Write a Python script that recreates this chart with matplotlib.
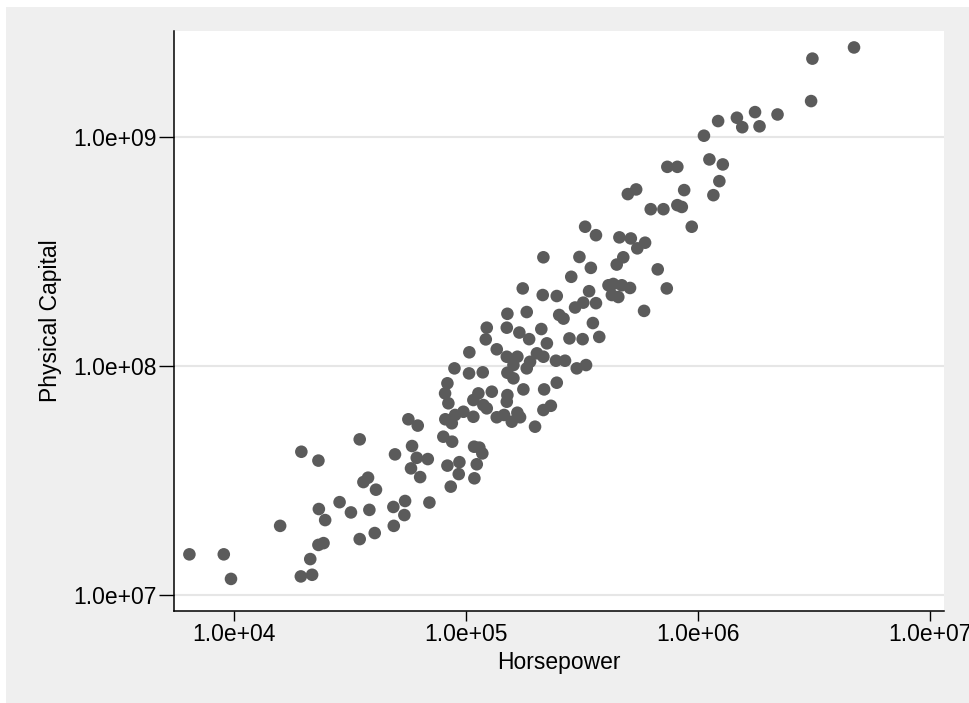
import matplotlib
matplotlib.use("Agg")
import matplotlib.pyplot as plt
from matplotlib.patches import Rectangle

plt.rcParams['font.family'] = ['Liberation Sans', 'DejaVu Sans']

# ------------------------------------------------
# Data (horsepower vs physical capital)
# ------------------------------------------------
horsepower = [
    6.42e3, 9.03e3, 9.7e3, 1.58e4, 1.95e4, 2.31e4, 1.94e4, 2.17e4, 2.13e4, 2.31e4,
    2.43e4, 2.32e4, 2.47e4, 2.85e4, 3.19e4, 3.48e4, 3.48e4, 4.04e4, 3.83e4, 3.61e4,
    3.78e4, 4.09e4, 4.86e4, 5.46e4, 5.42e4, 4.88e4, 6.95e4, 4.94e4, 5.85e4, 6.13e4,
    6.84e4, 5.79e4, 6.34e4, 5.64e4, 6.19e4, 8.31e4, 9.36e4, 9.30e4, 8.59e4, 1.086e5,
    1.112e5, 1.083e5, 1.141e5, 1.175e5, 7.98e4, 8.71e4, 8.14e4, 8.68e4, 1.033e5, 1.216e5,
    1.356e5, 8.91e4, 1.030e5, 1.180e5, 1.498e5, 1.664e5, 1.507e5, 1.600e5, 1.826e5, 1.887e5,
    2.154e5, 2.23e5, 2.44e5, 2.67e5, 2.46e5, 2.17e5, 1.766e5, 1.507e5, 1.498e5, 8.31e4,
    8.12e4, 8.39e4, 1.130e5, 1.291e5, 1.075e5, 1.187e5, 1.228e5, 9.74e4, 8.97e4, 1.075e5,
    1.356e5, 1.458e5, 1.664e5, 1.574e5, 1.709e5, 1.983e5, 2.154e5, 2.32e5, 2.154e5, 3.08e5,
    3.45e5, 2.84e5, 1.755e5, 2.14e5, 2.46e5, 3.39e5, 4.11e5, 3.20e5, 2.95e5, 3.63e5,
    1.507e5, 1.826e5, 2.52e5, 2.63e5, 3.52e5, 1.228e5, 1.498e5, 1.697e5, 2.11e5, 1.87e5,
    2.79e5, 3.18e5, 3.75e5, 1.600e5, 2.02e5, 3.00e5, 3.29e5, 5.41e5, 4.98e5, 8.71e5,
    6.25e5, 7.09e5, 8.14e5, 8.51e5, 9.39e5, 3.26e5, 3.63e5, 4.58e5, 5.13e5, 5.91e5,
    5.47e5, 4.76e5, 4.46e5, 6.70e5, 4.31e5, 4.69e5, 5.09e5, 7.33e5, 4.25e5, 4.53e5,
    5.85e5, 1.119e6, 1.278e6, 1.235e6, 1.164e6, 7.37e5, 8.14e5, 4.70e6, 3.11e6, 3.07e6,
    2.20e6, 1.76e6, 1.84e6, 1.47e6, 1.55e6, 1.22e6, 1.06e6,
]
capital = [
    1.51e7, 1.51e7, 1.18e7, 2.01e7, 4.23e7, 3.87e7, 1.21e7, 1.23e7, 1.44e7, 1.66e7,
    1.69e7, 2.38e7, 2.13e7, 2.55e7, 2.30e7, 4.79e7, 1.76e7, 1.87e7, 2.36e7, 3.12e7,
    3.26e7, 2.89e7, 2.43e7, 2.58e7, 2.24e7, 2.01e7, 2.54e7, 4.12e7, 4.48e7, 3.98e7,
    3.93e7, 3.58e7, 3.28e7, 5.86e7, 5.50e7, 3.68e7, 3.81e7, 3.38e7, 2.98e7, 3.24e7,
    3.73e7, 4.45e7, 4.41e7, 4.16e7, 4.92e7, 4.68e7, 5.86e7, 5.63e7, 1.148e8, 1.307e8,
    1.183e8, 9.77e7, 9.29e7, 9.39e7, 1.098e8, 1.098e8, 9.35e7, 8.84e7, 9.77e7, 1.044e8,
    1.098e8, 1.256e8, 1.055e8, 1.055e8, 8.46e7, 7.91e7, 7.91e7, 7.47e7, 6.99e7, 8.41e7,
    7.60e7, 6.88e7, 7.60e7, 7.73e7, 7.11e7, 6.76e7, 6.54e7, 6.32e7, 6.12e7, 6.01e7,
    5.98e7, 6.12e7, 6.26e7, 5.72e7, 5.98e7, 5.44e7, 6.43e7, 6.71e7, 2.98e8, 2.99e8,
    2.68e8, 2.45e8, 2.18e8, 2.04e8, 2.02e8, 2.12e8, 2.25e8, 1.89e8, 1.80e8, 1.88e8,
    1.69e8, 1.72e8, 1.67e8, 1.61e8, 1.54e8, 1.47e8, 1.47e8, 1.40e8, 1.45e8, 1.31e8,
    1.32e8, 1.31e8, 1.34e8, 1.01e8, 1.136e8, 9.77e7, 1.01e8, 5.89e8, 5.62e8, 5.85e8,
    4.83e8, 4.83e8, 5.03e8, 4.94e8, 4.05e8, 4.05e8, 3.72e8, 3.64e8, 3.60e8, 3.45e8,
    3.26e8, 2.98e8, 2.77e8, 2.64e8, 2.28e8, 2.25e8, 2.19e8, 2.18e8, 2.04e8, 2.00e8,
    1.74e8, 7.96e8, 7.57e8, 6.40e8, 5.56e8, 7.39e8, 7.39e8, 2.45e9, 2.19e9, 1.43e9,
    1.25e9, 1.28e9, 1.11e9, 1.21e9, 1.10e9, 1.17e9, 1.01e9,
]

x_ticks = [1e4, 1e5, 1e6, 1e7]
x_tick_labels = ["1.0e+04", "1.0e+05", "1.0e+06", "1.0e+07"]
y_ticks = [1e7, 1e8, 1e9]
y_tick_labels = ["1.0e+07", "1.0e+08", "1.0e+09"]

# ------------------------------------------------
# Figure
# ------------------------------------------------
W, H = 969, 703
fig = plt.figure(figsize=(W / 100, H / 100), dpi=100, facecolor="white")
# light gray graph region (white strip only on the left and top)
fig.patches.append(Rectangle((6 / W, 0), 1 - 6 / W, (H - 7) / H,
                             transform=fig.transFigure, facecolor="#EFEFEF",
                             edgecolor="none", zorder=-10))

ax = fig.add_axes([174 / W, (H - 611) / H, (944 - 174) / W, (611 - 31) / H])
ax.set_facecolor("white")

ax.scatter(horsepower, capital, s=82, color="#5B5B5B", edgecolors="none", zorder=3)

ax.set_xscale("log")
ax.set_yscale("log")
ax.set_xlim(5.51e3, 1.148e7)
ax.set_ylim(8.55e6, 2.89e9)

ax.set_xticks(x_ticks)
ax.set_xticklabels(x_tick_labels)
ax.set_yticks(y_ticks)
ax.set_yticklabels(y_tick_labels)
ax.minorticks_off()

ax.grid(axis="y", color="#E6E6E6", linewidth=1.5, zorder=0)
ax.set_axisbelow(True)

for side in ("top", "right"):
    ax.spines[side].set_visible(False)
for side in ("left", "bottom"):
    ax.spines[side].set_linewidth(1.1)
    ax.spines[side].set_color("black")

ax.tick_params(axis="both", direction="out", width=1, labelsize=16.5, colors="black")
ax.tick_params(axis="x", length=7.3, pad=1.6)
ax.tick_params(axis="y", length=10.5, pad=2)

ax.set_xlabel("Horsepower", fontsize=16.5, labelpad=3)
ax.set_ylabel("Physical Capital", fontsize=16.5, labelpad=8)

fig.savefig("out.png", dpi=100, facecolor=fig.get_facecolor())
